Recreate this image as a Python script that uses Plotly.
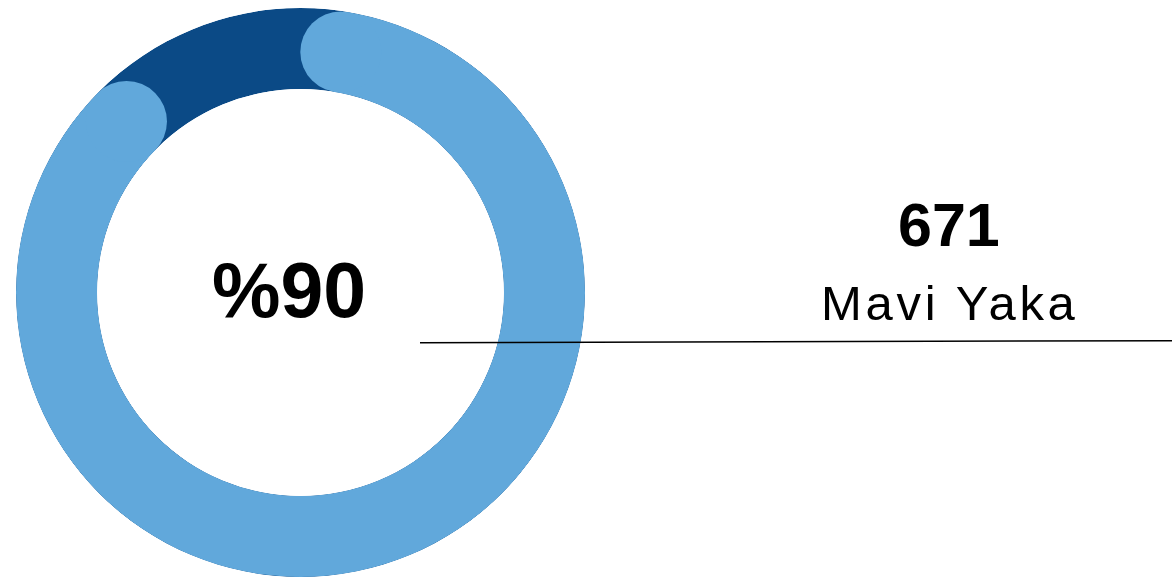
import math

import plotly.graph_objects as go

# Data
percent = 90
count = 671
label = "Mavi Yaka"

# Colours
LIGHT = "#61A8DB"
DARK = "#0B4A86"

W, H = 1172, 577
ring_px = 81          # ring thickness in pixels
mid_px = 244          # radius of ring centre line in pixels

# angle taken by a rounded cap (half the ring thickness)
cap_deg = math.degrees((ring_px / 2) / mid_px)
arc_end = 360 * percent / 100
arc_start = cap_deg
arc_stop = arc_end - cap_deg

fig = go.Figure()

# background ring
fig.add_trace(
    go.Barpolar(r=[1], theta=[180], width=[360], marker=dict(color=DARK, line=dict(width=0)),
                hoverinfo="skip")
)

# value arc
fig.add_trace(
    go.Barpolar(
        r=[1],
        theta=[(arc_start + arc_stop) / 2],
        width=[arc_stop - arc_start],
        marker=dict(color=LIGHT, line=dict(width=0)),
        hoverinfo="skip",
    )
)

# rounded caps
fig.add_trace(
    go.Scatterpolar(
        r=[0.5, 0.5],
        theta=[arc_start, arc_stop],
        mode="markers",
        marker=dict(color=LIGHT, size=ring_px, line=dict(width=0)),
        hoverinfo="skip",
    )
)

font_family = "Liberation Sans, Arial, sans-serif"

fig.add_annotation(
    text=f"<b>%{percent}</b>",
    x=288.5 / W, y=1 - 290 / H, xref="paper", yref="paper",
    showarrow=False, xanchor="center", yanchor="middle",
    font=dict(size=77, color="black", family=font_family),
)
fig.add_annotation(
    text=f"<b>{count}</b>",
    x=948.5 / W, y=1 - 224.5 / H, xref="paper", yref="paper",
    showarrow=False, xanchor="center", yanchor="middle",
    font=dict(size=61, color="black", family=font_family),
)
fig.add_annotation(
    text=f"<span style='letter-spacing:3.7px'>{label}</span>",
    x=950 / W, y=1 - 303 / H, xref="paper", yref="paper",
    showarrow=False, xanchor="center", yanchor="middle",
    font=dict(size=49, color="black", family=font_family),
)

# leader line
fig.add_shape(
    type="line", xref="paper", yref="paper",
    x0=420 / W, y0=1 - 342.7 / H, x1=1, y1=1 - 340.7 / H,
    line=dict(color="black", width=1.5),
)

fig.update_layout(
    width=W,
    height=H,
    margin=dict(l=0, r=0, t=0, b=0),
    paper_bgcolor="white",
    plot_bgcolor="white",
    showlegend=False,
    polar=dict(
        domain=dict(x=[16 / W, 585 / W], y=[0, 1 - 8 / H]),
        hole=0.715,
        bgcolor="white",
        radialaxis=dict(range=[0, 1], visible=False),
        angularaxis=dict(rotation=90, direction="clockwise", visible=False),
        barmode="overlay",
    ),
)

fig.write_html(
    "out.html",
    config={"displayModeBar": False},
    post_script="document.body.style.margin = '0';",
)
